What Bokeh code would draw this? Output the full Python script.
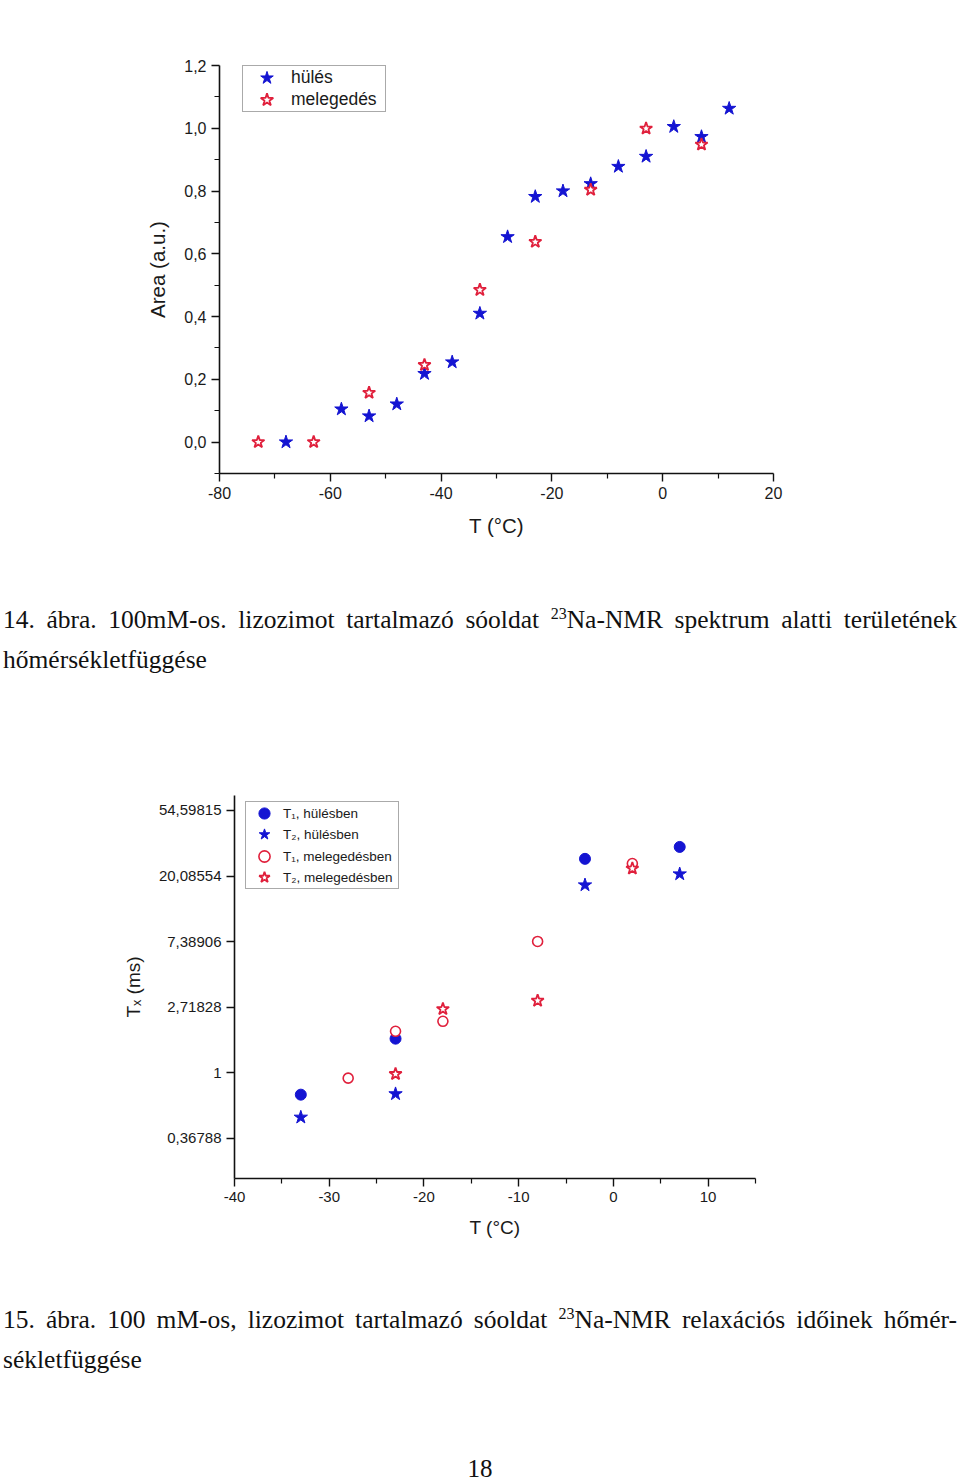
import math
from bokeh.plotting import figure
from bokeh.models import (Range1d, FixedTicker, CustomJSTickFormatter, Legend,
                          LegendItem, Div)
from bokeh.layouts import column
from bokeh.embed import file_html
from bokeh.resources import INLINE

# ---------------- Chart 1 data (14. ábra) ----------------
cool_T = [-68, -58, -53, -48, -43, -38, -33, -28, -23, -18, -13, -8, -3, 2, 7, 12]
cool_area = [0.0, 0.105, 0.083, 0.121, 0.218, 0.255, 0.41, 0.654, 0.782, 0.80,
             0.823, 0.878, 0.91, 1.005, 0.973, 1.063]
heat_T = [-73, -63, -53, -43, -33, -23, -13, -3, 7]
heat_area = [0.0, 0.0, 0.157, 0.246, 0.485, 0.638, 0.804, 0.999, 0.948]
x1_ticks = [-80, -60, -40, -20, 0, 20]
x1_minor = [-70, -50, -30, -10, 10]
y1_ticks = [0.0, 0.2, 0.4, 0.6, 0.8, 1.0, 1.2]
y1_minor = [-0.1, 0.1, 0.3, 0.5, 0.7, 0.9, 1.1]
legend1_labels = ["hülés", "melegedés"]

# ---------------- Chart 2 data (15. ábra) ----------------
t1_cool_T = [-33, -23, -3, 7]
t1_cool = [0.715, 1.68, 26.1, 31.3]
t2_cool_T = [-33, -23, -3, 7]
t2_cool = [0.506, 0.723, 17.5, 20.7]
t1_heat_T = [-28, -23, -18, -8, 2]
t1_heat = [0.92, 1.88, 2.19, 7.4, 24.3]
t2_heat_T = [-23, -18, -8, 2]
t2_heat = [0.98, 2.64, 3.0, 22.5]
x2_ticks = [-40, -30, -20, -10, 0, 10]
x2_minor = [-35, -25, -15, -5, 5, 15]
y2_exps = [-1, 0, 1, 2, 3, 4]
y2_labels = ["0,36788", "1", "2,71828", "7,38906", "20,08554", "54,59815"]
legend2_labels = ["T₁, hülésben", "T₂, hülésben", "T₁, melegedésben", "T₂, melegedésben"]

BLUE = "#1414d2"
RED = "#e0203c"
SANS = "Liberation Sans"
SERIF = "Liberation Serif"

XFMT = "return tick.toString();"


def style_axes(p, tick_fs, label_fs):
    p.outline_line_color = None
    p.xgrid.visible = False
    p.ygrid.visible = False
    p.background_fill_color = "white"
    p.border_fill_color = "white"
    for ax in (p.xaxis[0], p.yaxis[0]):
        ax.axis_line_width = 1.6
        ax.axis_line_color = "#111111"
        ax.major_tick_line_width = 1.4
        ax.major_tick_line_color = "#111111"
        ax.minor_tick_line_width = 1.2
        ax.minor_tick_line_color = "#111111"
        ax.major_tick_out = 8
        ax.major_tick_in = 0
        ax.minor_tick_out = 5
        ax.minor_tick_in = 0
        ax.major_label_text_font = SANS
        ax.major_label_text_font_size = tick_fs
        ax.major_label_text_color = "#1a1a1a"
        ax.major_label_standoff = 5
        ax.axis_label_text_font = SANS
        ax.axis_label_text_font_size = label_fs
        ax.axis_label_text_font_style = "normal"
        ax.axis_label_text_color = "#1a1a1a"


def boxed_legend(p, items, frame_loc, frame_w, frame_h, item_locs,
                 glyph_w, glyph_h, font_size):
    """A bordered frame plus one borderless legend per entry (so the
    legend markers can be as large as in the reference)."""
    dummy = p.scatter([], [], marker="circle", size=1, fill_alpha=0, line_alpha=0)
    frame = Legend(items=[LegendItem(label=" ", renderers=[dummy])],
                   location=frame_loc, padding=0, margin=0, spacing=0,
                   glyph_width=10, glyph_height=frame_h, label_height=frame_h,
                   label_standoff=0, label_width=frame_w - 10,
                   label_text_font_size="2px",
                   border_line_color="#555555", border_line_width=1.2,
                   background_fill_color="white", background_fill_alpha=1.0)
    p.add_layout(frame, "center")
    for (label, rend), loc in zip(items, item_locs):
        lg = Legend(items=[LegendItem(label=label, renderers=[rend])],
                    location=loc, padding=0, margin=0, spacing=0,
                    glyph_width=glyph_w, glyph_height=glyph_h, label_height=glyph_h,
                    label_standoff=0, label_text_font=SANS,
                    label_text_font_size=font_size, label_text_color="#1a1a1a",
                    border_line_color=None, background_fill_alpha=0.0)
        p.add_layout(lg, "center")


# ---------------- Figure 1 ----------------
p1 = figure(frame_width=554, frame_height=408,
            min_border_left=219, min_border_right=187,
            min_border_top=65, min_border_bottom=127,
            x_range=Range1d(-80, 20), y_range=Range1d(-0.1, 1.2),
            output_backend="svg", toolbar_location=None)
style_axes(p1, "16px", "20.5px")
p1.xaxis.ticker = FixedTicker(ticks=x1_ticks, minor_ticks=x1_minor)
p1.yaxis.ticker = FixedTicker(ticks=y1_ticks, minor_ticks=y1_minor)
p1.xaxis.formatter = CustomJSTickFormatter(code=XFMT)
p1.yaxis.formatter = CustomJSTickFormatter(code="return tick.toFixed(1).replace('.', ',');")
p1.xaxis.axis_label = "T (°C)"
p1.yaxis.axis_label = "Area (a.u.)"
p1.xaxis.axis_label_standoff = 12
p1.yaxis.axis_label_standoff = 12

r_cool = p1.scatter(cool_T, cool_area, marker="star", size=14,
                    fill_color=BLUE, line_color=BLUE, line_width=1)
r_heat = p1.scatter(heat_T, heat_area, marker="star", size=13,
                    fill_color="white", line_color=RED, line_width=1.8)

boxed_legend(p1, list(zip(legend1_labels, [r_cool, r_heat])),
             frame_loc=(23, 361), frame_w=142, frame_h=45,
             item_locs=[(23, 379), (23, 357)],
             glyph_w=49, glyph_h=33, font_size="17.5px")


def caption_line(html, last_justify=True, height=40):
    style = ("font-family:'%s',serif;font-size:25.5px;line-height:%dpx;color:#111;"
             "text-align:justify;white-space:nowrap;%s" %
             (SERIF, height, "text-align-last:justify;" if last_justify else ""))
    return Div(text='<div style="%s;width:954px">%s</div>' % (style, html),
               width=957, height=height, margin=(0, 0, 0, 3))


SUP = '<sup style="font-size:16px;line-height:0;vertical-align:0.55em">23</sup>'

cap1a = caption_line("14. ábra. 100mM-os. lizozimot tartalmazó sóoldat " + SUP +
                     "Na-NMR spektrum alatti területének")
cap1b = caption_line("hőmérsékletfüggése", last_justify=False)

# ---------------- Figure 2 ----------------
p2 = figure(frame_width=521, frame_height=383,
            min_border_left=219, min_border_right=187,
            min_border_top=115, min_border_bottom=122,
            x_range=Range1d(-40, 15), y_range=Range1d(0.199, 68.6),
            y_axis_type="log", margin=(0, 0, 0, 15),
            output_backend="svg", toolbar_location=None)
style_axes(p2, "15px", "19px")
p2.xaxis.ticker = FixedTicker(ticks=x2_ticks, minor_ticks=x2_minor)
p2.xaxis.formatter = CustomJSTickFormatter(code=XFMT)
p2.yaxis.ticker = FixedTicker(ticks=[math.exp(k) for k in y2_exps], minor_ticks=[])
p2.yaxis.formatter = CustomJSTickFormatter(
    args=dict(labels=y2_labels, first=y2_exps[0]),
    code="const k = Math.round(Math.log(tick)) - first; return labels[k];")
p2.xaxis.axis_label = "T (°C)"
p2.yaxis.axis_label = "Tₓ (ms)"
p2.xaxis.axis_label_standoff = 12
p2.yaxis.axis_label_standoff = 12

r_t1c = p2.scatter(t1_cool_T, t1_cool, marker="circle", size=11,
                   fill_color=BLUE, line_color=BLUE, line_width=1)
r_t2c = p2.scatter(t2_cool_T, t2_cool, marker="star", size=14,
                   fill_color=BLUE, line_color=BLUE, line_width=1)
r_t1h = p2.scatter(t1_heat_T, t1_heat, marker="circle", size=10,
                   fill_color="white", line_color=RED, line_width=1.6)
r_t2h = p2.scatter(t2_heat_T, t2_heat, marker="star", size=13,
                   fill_color="white", line_color=RED, line_width=1.8)

boxed_legend(p2, list(zip(legend2_labels, [r_t1c, r_t2c, r_t1h, r_t2h])),
             frame_loc=(11, 289), frame_w=152, frame_h=86,
             item_locs=[(11, 351), (11, 330), (11, 308), (11, 287)],
             glyph_w=38, glyph_h=28, font_size="13.5px")

cap2a = caption_line("15. ábra. 100 mM-os, lizozimot tartalmazó sóoldat " + SUP +
                     "Na-NMR relaxációs időinek hőmér-")
cap2b = caption_line("sékletfüggése", last_justify=False)

spacer = Div(text="", width=960, height=74, margin=(0, 0, 0, 0))
pagenum = Div(text='<div style="font-family:\'%s\',serif;font-size:25px;line-height:29px;'
                   'color:#111;text-align:center;width:960px">18</div>' % SERIF,
              width=960, height=29, margin=(0, 0, 0, 0))

layout = column(p1, cap1a, cap1b, p2, cap2a, cap2b, spacer, pagenum, spacing=0)

with open("out.html", "w") as f:
    f.write(file_html(layout, INLINE))
